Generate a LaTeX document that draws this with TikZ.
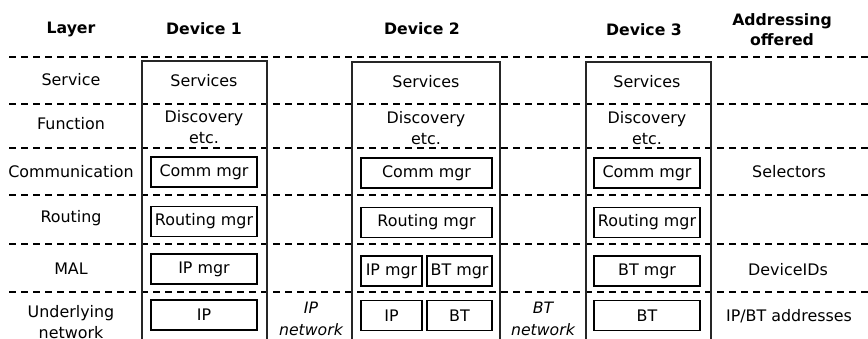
\documentclass[tikz,border=0pt]{standalone}
\usepackage{fontspec}
\setmainfont{DejaVu Sans}
\tikzset{head/.style = {font=\fontsize{15.7}{20}\selectfont\bfseries, align=center},
         layer/.style = {align=center},
         mgr/.style = {draw, line width=1.1pt, rectangle, inner sep=0pt, minimum height=30pt},
         device/.style = {draw=black!85, line width=1.3pt},
         sep/.style = {line width=1.1pt, dash pattern=on 7pt off 5pt},
         net/.style = {font=\fontsize{15.7}{22}\selectfont\itshape, align=center}}

\begin{document}
\begin{tikzpicture}[x=1pt,y=-1pt,font=\fontsize{15.9}{21}\selectfont]
        \useasboundingbox (0,0) rectangle (868,338);

        % layer separators
        \foreach \y in {57,104,148,195,244,292}
            \draw[sep] (9,\y) -- (868,\y);

        \node[head] (hlayer) at (71,29) {Layer};
        \node[head] (hdevone) at (204,29) {Device 1};
        \node[head] (hdevtwo) at (422,29) {Device 2};
        \node[head] (hdevthree) at (644,30) {Device 3};
        \node[head] (haddr) at (782,30) {Addressing\\offered};

        \node[layer] (lservice) at (71,80) {Service};
        \node[layer] (lfunction) at (71,124) {Function};
        \node[layer] (lcomm) at (71,172) {Communication};
        \node[layer] (lrouting) at (71,218) {Routing};
        \node[layer] (lmal) at (71,269) {MAL};
        \node[layer] (lnet) at (71,322) {Underlying\\network};

        % device 1
        \draw[device] (142,340) |- (267,61) -- (267,340);
        \node (servone) at (204,81) {Services};
        \node[align=center] (discone) at (204,127) {Discovery\\etc.};
        \node[mgr, minimum width=106pt] (commone) at (204,172) {Comm mgr};
        \node[mgr, minimum width=106pt] (routone) at (204,221.5) {Routing mgr};
        \node[mgr, minimum width=106pt] (ipmgrone) at (204,269) {IP mgr};
        \node[mgr, minimum width=106pt] (ipone) at (204,315) {IP};

        \node[net] (ipnet) at (311,319) {IP\\network};

        % device 2
        \draw[device] (352,340) |- (500,62) -- (500,340);
        \node (servtwo) at (426,82) {Services};
        \node[align=center] (disctwo) at (426,128) {Discovery\\etc.};
        \node[mgr, minimum width=131pt] (commtwo) at (426.5,173) {Comm mgr};
        \node[mgr, minimum width=131pt] (routtwo) at (426.5,222.5) {Routing mgr};
        \node[mgr, minimum width=61pt] (ipmgrtwo) at (391.5,271) {IP mgr};
        \node[mgr, minimum width=65pt] (btmgrtwo) at (459.5,271) {BT mgr};
        \node[mgr, minimum width=61pt] (iptwo) at (391.5,315.5) {IP};
        \node[mgr, minimum width=65pt] (bttwo) at (459.5,315.5) {BT};

        \node[net] (btnet) at (543,319) {BT\\network};

        % device 3
        \draw[device] (586,340) |- (711,62) -- (711,340);
        \node (servthree) at (647,82) {Services};
        \node[align=center] (discthree) at (647,128) {Discovery\\etc.};
        \node[mgr, minimum width=106pt] (commthree) at (647,173) {Comm mgr};
        \node[mgr, minimum width=106pt] (routthree) at (647,222.5) {Routing mgr};
        \node[mgr, minimum width=106pt] (btmgrthree) at (647,271) {BT mgr};
        \node[mgr, minimum width=106pt] (btthree) at (647,315.5) {BT};

        \node (aselect) at (789,172) {Selectors};
        \node (adevid) at (788,270) {DeviceIDs};
        \node (aaddr) at (789,316) {IP/BT addresses};
\end{tikzpicture}
\end{document}
